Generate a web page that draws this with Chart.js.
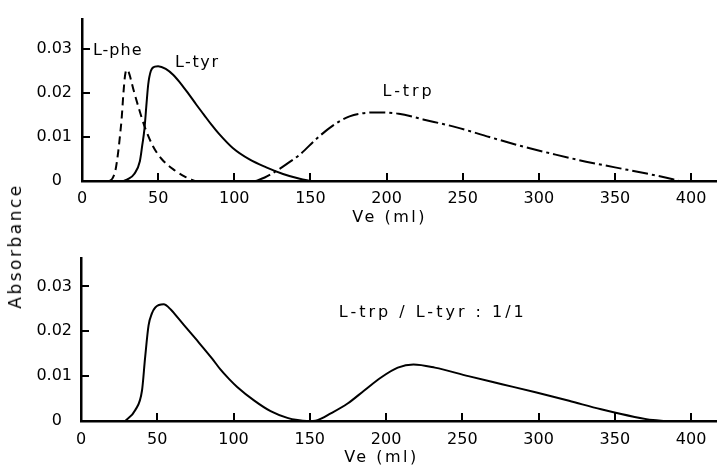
<!DOCTYPE html>
<html>
<head>
<meta charset="utf-8">
<script src="https://cdn.jsdelivr.net/npm/chart.js@4.4.1/dist/chart.umd.min.js"></script>
<style>
  html, body { margin: 0; padding: 0; background: #fff; }
  #wrap { position: relative; width: 717px; height: 473px; overflow: hidden; }
  canvas { position: absolute; left: 0; }
  #top { top: 0; }
  #bot { top: 240px; }
  #ylab { position: absolute; left: 15px; top: 246px; transform: translate(-50%, -50%) rotate(-90deg);
          font: 17px "DejaVu Sans"; letter-spacing: 2.5px; white-space: nowrap; color: #000; }
</style>
</head>
<body>
<div id="wrap">
  <canvas id="top" width="717" height="240"></canvas>
  <canvas id="bot" width="717" height="233"></canvas>
  <div id="ylab">Absorbance</div>
</div>
<script>
// ---- valores ----
const xTicks = [0, 50, 100, 150, 200, 250, 300, 350, 400];
const yTicks = [0, 0.01, 0.02, 0.03];

// panel superior
const pheVe  = [18, 20, 22, 23.8, 25, 26, 27.1, 28.2, 29.3, 30.6, 32, 34, 37, 41.3, 46.8, 52.3, 61, 67.5, 74];
const pheAbs = [0, 0.0006, 0.0025, 0.0067, 0.0105, 0.014, 0.0195, 0.0238, 0.0253, 0.0248, 0.0232, 0.0205, 0.0169, 0.0122, 0.0078, 0.005, 0.0024, 0.001, 0];

const tyrVe  = [27, 30.4, 34.3, 38, 39.6, 41, 42.4, 43.5, 45.2, 47.9, 50, 55, 60, 65, 70, 75, 80, 85, 90, 99, 110, 121, 132, 143, 150];
const tyrAbs = [0, 0.0005, 0.0016, 0.0045, 0.0082, 0.0118, 0.0177, 0.022, 0.025, 0.026, 0.0261, 0.0255, 0.0241, 0.0221, 0.0198, 0.0174, 0.0151, 0.0128, 0.0107, 0.0075, 0.0049, 0.0031, 0.0016, 0.0005, 0];

const trpVe  = [114, 120, 127.7, 135, 143, 154, 164.7, 175.7, 186.7, 195, 208, 224, 246, 267.5, 289, 311, 331, 350, 372, 388, 392];
const trpAbs = [0, 0.0008, 0.0023, 0.004, 0.006, 0.0096, 0.0126, 0.0147, 0.0155, 0.0156, 0.0153, 0.014, 0.0122, 0.01, 0.0079, 0.006, 0.0044, 0.0031, 0.0016, 0.0004, 0];

// panel inferior: mezcla L-trp / L-tyr 1/1
const mixVe  = [29, 35.5, 40, 42, 44.3, 46.5, 48.7, 54.2, 59, 64, 75, 86, 91.4, 97, 102.4, 113.4, 124.3, 135.3, 142, 148, 155, 163.8, 174.8, 185.7, 196.7, 207.7, 218, 232, 254, 276, 298, 320, 341, 363, 375, 383];
const mixAbs = [0, 0.0024, 0.0068, 0.014, 0.0213, 0.024, 0.0253, 0.026, 0.0248, 0.0228, 0.0184, 0.0139, 0.0115, 0.0094, 0.0076, 0.0046, 0.0022, 0.0007, 0.0002, 0, 0.0002, 0.0017, 0.0039, 0.0068, 0.0097, 0.0119, 0.0126, 0.0119, 0.01, 0.0082, 0.0064, 0.0045, 0.0026, 0.0009, 0.0002, 0];

const FONT = '"DejaVu Sans"';

function curva(label, xs, ys, dash) {
  return {
    label, data: xs.map((x, i) => ({ x, y: ys[i] })),
    showLine: true, borderColor: '#000', borderWidth: 2, borderDash: dash || [],
    pointRadius: 0, fill: false, cubicInterpolationMode: 'monotone'
  };
}

// marcas hacia dentro, textos de curvas y título del eje
const decor = {
  id: 'decor',
  afterDraw(chart, args, opts) {
    const { ctx, chartArea: a, scales: { x, y } } = chart;
    ctx.save();
    ctx.strokeStyle = '#000';
    ctx.lineWidth = 2;
    ctx.beginPath();
    x.ticks.forEach(t => {
      if (!t.value) return;
      const px = Math.round(x.getPixelForValue(t.value));
      ctx.moveTo(px, a.bottom); ctx.lineTo(px, a.bottom - 8);
    });
    y.ticks.forEach(t => {
      if (!t.value) return;
      const py = Math.round(y.getPixelForValue(t.value));
      ctx.moveTo(a.left, py); ctx.lineTo(a.left + 8, py);
    });
    ctx.stroke();

    ctx.fillStyle = '#000';
    ctx.font = '16px ' + FONT;
    ctx.textBaseline = 'middle';
    ctx.textAlign = 'left';
    opts.notas.forEach(n => {
      ctx.letterSpacing = n.sp + 'px';
      ctx.fillText(n.text, x.getPixelForValue(n.x), y.getPixelForValue(n.y));
    });
    ctx.letterSpacing = '2.5px';
    ctx.textAlign = 'center';
    ctx.fillText(opts.titulo, x.getPixelForValue(opts.tituloEn), a.bottom + 37);
    ctx.restore();
  }
};

function crearGrafica(id, datasets, o) {
  return new Chart(document.getElementById(id), {
    type: 'scatter',
    data: { datasets },
    plugins: [decor],
    options: {
      responsive: false, animation: false,
      layout: { padding: { top: o.top, right: 0, left: 0, bottom: 0 } },
      plugins: { legend: { display: false }, tooltip: { enabled: false }, decor: o.decor },
      scales: {
        x: {
          type: 'linear', min: 0, max: 417,
          afterBuildTicks: s => { s.ticks = xTicks.map(v => ({ value: v })); },
          afterFit: s => { s.height = o.xAlto; },
          grid: { display: false, drawTicks: false },
          border: { display: true, color: '#000', width: 2.5 },
          ticks: { color: '#000', font: { family: FONT, size: 16 }, padding: o.xPad, maxRotation: 0, callback: v => String(v) }
        },
        y: {
          type: 'linear', min: 0, max: o.yMax,
          afterBuildTicks: s => { s.ticks = yTicks.map(v => ({ value: v })); },
          afterFit: s => { s.width = o.yAncho; },
          grid: { display: false, drawTicks: false },
          border: { display: true, color: '#000', width: 2.5 },
          ticks: { color: '#000', font: { family: FONT, size: 16 }, padding: o.yPad, callback: v => v === 0 ? '0  ' : v.toFixed(2) }
        }
      }
    }
  });
}

crearGrafica('top', [
  curva('L-phe', pheVe, pheAbs, [8, 5]),
  curva('L-tyr', tyrVe, tyrAbs),
  curva('L-trp', trpVe, trpAbs, [16, 4, 3, 4])
], {
  top: 13, xAlto: 59, yAncho: 82, yMax: 0.0367, xPad: 8, yPad: 10,
  decor: {
    titulo: 'Ve (ml)', tituloEn: 202,
    notas: [
      { text: 'L-phe', x: 7.2, y: 0.0297, sp: 1 },
      { text: 'L-tyr', x: 61, y: 0.0268, sp: 1.6 },
      { text: 'L-trp', x: 197.4, y: 0.0203, sp: 2.9 }
    ]
  }
});

crearGrafica('bot', [
  curva('L-trp / L-tyr', mixVe, mixAbs)
], {
  top: 15, xAlto: 52, yAncho: 81, yMax: 0.0362, xPad: 9, yPad: 9,
  decor: {
    titulo: 'Ve (ml)', tituloEn: 197,
    notas: [
      { text: 'L-trp / L-tyr : 1/1', x: 169, y: 0.0242, sp: 3 }
    ]
  }
});
</script>
</body>
</html>
